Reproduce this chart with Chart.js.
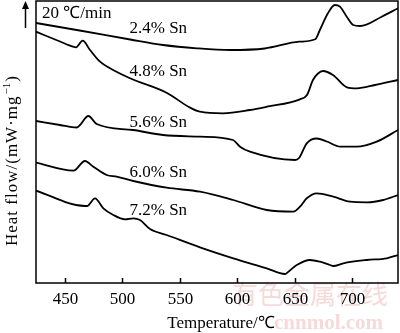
<!DOCTYPE html>
<html>
<head>
<meta charset="utf-8">
<script src="https://cdn.jsdelivr.net/npm/chart.js@4.4.1/dist/chart.umd.min.js"></script>
<style>
  html, body { margin: 0; padding: 0; background: #fff; }
  canvas { display: block; }
</style>
</head>
<body>
<canvas id="dscCanvas" width="400" height="333"></canvas>
<script>
// DSC curves, heat flow in arbitrary offset units (curves are stacked)
var seriesNames = ["2.4% Sn", "4.8% Sn", "5.6% Sn", "6.0% Sn", "7.2% Sn"];

var temp24 = [425, 463, 507, 535.5, 565, 594, 624, 654, 668, 672, 679, 685, 689.5, 695.4, 701, 707, 725.8, 740];
var heat24 = [26.0, 25.25, 24.35, 23.8, 23.47, 23.3, 23.45, 24.13, 24.37, 25.3, 26.97, 27.8, 27.63, 26.63, 25.8, 25.7, 26.63, 27.47];

var temp48 = [425, 445.9, 457.2, 459.8, 465.6, 472, 480.7, 489.4, 506.8, 539, 558.1, 567.7, 587.7, 611.2, 626, 654.7, 660.8, 666, 670.4, 674.7, 683.4, 695.6, 704.3, 720, 740];
var heat48 = [25.13, 24.15, 23.63, 23.57, 24.23, 23.3, 22.13, 21.47, 20.47, 19.0, 17.6, 17.13, 16.97, 17.3, 17.63, 18.37, 18.8, 20.3, 20.95, 21.2, 20.8, 19.57, 19.47, 19.8, 20.3];

var temp56 = [425, 445.9, 460.4, 463.3, 470.5, 477.8, 509.4, 535.5, 567.7, 596.4, 602.5, 611.2, 650.4, 653.9, 660.6, 669.3, 678, 689.7, 704.1, 721.5, 740];
var heat56 = [16.2, 15.8, 15.55, 15.8, 16.7, 15.9, 15.3, 14.8, 14.63, 14.3, 13.63, 13.13, 12.3, 12.5, 13.97, 14.45, 14.15, 13.63, 13.63, 14.13, 15.3];

var temp60 = [425, 457.5, 467.6, 474.9, 486.5, 495.2, 509.7, 538.7, 567.7, 596.7, 625.8, 648.9, 654.7, 660.6, 669.3, 683.7, 698.2, 712.8, 727.2, 740];
var heat60 = [12.03, 11.23, 12.2, 11.63, 10.8, 10.63, 10.2, 9.53, 9.13, 8.3, 7.3, 7.13, 7.63, 8.47, 8.97, 8.63, 8.13, 8.07, 8.3, 8.8];

var temp72 = [425, 467.6, 469.4, 476.3, 483.6, 492.3, 502.4, 509.7, 515.5, 524.2, 538.7, 567.7, 596.7, 625.8, 641.7, 644.6, 651.9, 663.4, 672.1, 680.8, 683.7, 692.4, 712.8, 730.2, 740];
var heat72 = [9.23, 7.7, 7.7, 8.47, 7.47, 6.8, 6.37, 6.47, 6.3, 5.4, 4.8, 3.57, 2.47, 1.47, 0.9, 1.13, 1.8, 2.3, 2.13, 1.8, 1.7, 1.97, 2.3, 2.47, 2.8];

var xTicks = [450, 500, 550, 600, 650, 700];

var temps = [temp24, temp48, temp56, temp60, temp72];
var heats = [heat24, heat48, heat56, heat60, heat72];

// where the series names sit (pixel baseline)
var labelX = 129.5;
var labelBase = [33.3, 76, 126.7, 176.7, 215];

var serif = '"Liberation Serif", "Times New Roman", serif';

function puntos(t, h) {
  return t.map(function (v, i) { return { x: v, y: h[i] }; });
}

var datasets = seriesNames.map(function (n, i) {
  return {
    label: n,
    data: puntos(temps[i], heats[i]),
    borderColor: "#000",
    borderWidth: 1.8,
    pointRadius: 0,
    fill: false,
    cubicInterpolationMode: "monotone"
  };
});

var decor = {
  id: "decor",
  beforeDraw: function (chart) {
    var ctx = chart.ctx;
    ctx.save();
    ctx.fillStyle = "#fff";
    ctx.fillRect(0, 0, chart.width, chart.height);
    // watermark
    ctx.fillStyle = "rgba(235,170,170,0.45)";
    ctx.font = '26px "Noto Sans CJK SC", sans-serif';
    ctx.textBaseline = "alphabetic";
    ctx.textAlign = "left";
    ctx.fillText("有色金属在线", 232, 304);
    ctx.font = 'bold 21px ' + serif;
    ctx.fillText("cnnmol.com", 274, 329);
    ctx.restore();
  },
  afterDraw: function (chart) {
    var ctx = chart.ctx;
    var a = chart.chartArea;
    var xs = chart.scales.x;
    ctx.save();
    ctx.strokeStyle = "#000";
    ctx.lineWidth = 1.5;
    ctx.strokeRect(a.left, a.top, a.right - a.left, a.bottom - a.top);

    // inward ticks + labels
    ctx.fillStyle = "#000";
    ctx.font = "17px " + serif;
    ctx.textAlign = "center";
    ctx.textBaseline = "alphabetic";
    xTicks.forEach(function (v) {
      var px = Math.round(xs.getPixelForValue(v)) + 0.5;
      ctx.beginPath();
      ctx.moveTo(px, a.bottom);
      ctx.lineTo(px, a.bottom - 5);
      ctx.stroke();
      ctx.fillText(String(v), px, 304);
    });

    ctx.fillText("Temperature/℃", 221, 328);

    // series names
    ctx.textAlign = "left";
    seriesNames.forEach(function (n, i) {
      ctx.fillText(n, labelX, labelBase[i]);
    });
    ctx.fillText("20 ℃/min", 42, 17.5);

    // y title
    ctx.save();
    ctx.translate(17, 246);
    ctx.rotate(-Math.PI / 2);
    ctx.textAlign = "left";
    ctx.font = "17px " + serif;
    ctx.letterSpacing = "1px";
    var main = "Heat flow/(mW·mg";
    ctx.fillText(main, 0, 0);
    var w = ctx.measureText(main).width;
    ctx.font = "11px " + serif;
    ctx.letterSpacing = "0px";
    ctx.fillText("−1", w + 1, -7);
    var w2 = ctx.measureText("−1").width;
    ctx.font = "17px " + serif;
    ctx.fillText(")", w + w2 + 2, 0);
    ctx.restore();

    // arrow
    ctx.lineWidth = 1.5;
    ctx.beginPath();
    ctx.moveTo(25.5, 28);
    ctx.lineTo(25.5, 6);
    ctx.stroke();
    ctx.beginPath();
    ctx.moveTo(25.5, 1);
    ctx.lineTo(22, 9);
    ctx.lineTo(29, 9);
    ctx.closePath();
    ctx.fill();
    ctx.restore();
  }
};

var ctx = document.getElementById("dscCanvas").getContext("2d");
var myChart = new Chart(ctx, {
  type: "line",
  data: { datasets: datasets },
  options: {
    responsive: false,
    animation: false,
    devicePixelRatio: 1,
    layout: { padding: { left: 36, right: 2, top: 1, bottom: 0 } },
    scales: {
      x: {
        type: "linear",
        min: 425,
        max: 740,
        grid: { display: false },
        border: { display: false },
        ticks: { display: false },
        afterFit: function (s) { s.height = 50; }
      },
      y: {
        display: false,
        min: 0,
        max: 28.2
      }
    },
    plugins: {
      legend: { display: false },
      tooltip: { enabled: false }
    }
  },
  plugins: [decor]
});
</script>
</body>
</html>
